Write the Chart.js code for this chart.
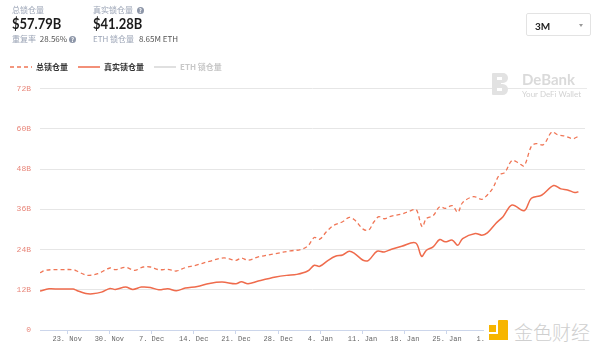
<!DOCTYPE html>
<html>
<head>
<meta charset="utf-8">
<script src="https://cdn.jsdelivr.net/npm/chart.js@4/dist/chart.umd.min.js"></script>
<style>
  html, body { margin: 0; padding: 0; background: #fff; }
  #wrap { position: relative; width: 600px; height: 356px; overflow: hidden; font-family: Lato, "Noto Sans CJK SC", sans-serif; }
  #c { position: absolute; left: 0; top: 0; }
  .abs { position: absolute; white-space: nowrap; line-height: 1; }
  .lbl { font-size: 8px; color: #9aa3b5; font-family: "Noto Sans CJK SC", Lato, sans-serif; }
  .big { font-size: 13px; font-weight: 700; color: #1b1b1b; transform: scaleY(1.18); transform-origin: 0 0; }
  .val { font-size: 8px; color: #555; }
  .q { display: inline-block; width: 7px; height: 7px; border-radius: 50%; background: #8d96a8; color: #fff; font-size: 6px; text-align: center; line-height: 7px; font-weight: 700; vertical-align: middle; }
  #sel { position: absolute; left: 526px; top: 13px; width: 65px; height: 23px; border: 1px solid #e3e3e3; border-radius: 2px; box-sizing: border-box; }
  #sel span { position: absolute; left: 8px; top: 7px; font-size: 10px; font-weight: 700; color: #222; line-height: 1; }
  #caret { position: absolute; left: 52px; top: 10px; width: 0; height: 0; border-left: 2.5px solid transparent; border-right: 2.5px solid transparent; border-top: 3px solid #999; }
  #debank { position: absolute; left: 492px; top: 72px; width: 96px; height: 26px; }
  #jinse { position: absolute; left: 484px; top: 317px; width: 116px; height: 36px; background: #fff; }
</style>
</head>
<body>
<div id="wrap">
  <canvas id="c" width="600" height="356"></canvas>

  <div class="abs lbl" style="left:12px;top:6px;">总锁仓量</div>
  <div class="abs big" style="left:12px;top:16px;">$57.79B</div>
  <div class="abs lbl" style="left:12px;top:35px;">重复率 <span class="val" style="margin-left:2px;">28.56%</span> <span class="q">?</span></div>

  <div class="abs lbl" style="left:93px;top:6px;">真实锁仓量 <span class="q" style="margin-left:2px;">?</span></div>
  <div class="abs big" style="left:93px;top:16px;">$41.28B</div>
  <div class="abs lbl" style="left:93px;top:35px;">ETH 锁仓量 <span class="val" style="margin-left:3px;">8.65M ETH</span></div>

  <div id="sel"><span>3M</span><div id="caret"></div></div>

  <div id="debank">
    <div class="abs" style="left:0;top:1px;width:16px;height:22px;">
      <div style="position:absolute;left:0;top:0;width:9px;height:22px;background:#e2e2e2;border-radius:1px;"></div>
      <div style="position:absolute;left:5px;top:0;width:11px;height:10px;background:#e2e2e2;border-radius:0 6px 6px 0;"></div>
      <div style="position:absolute;left:5px;top:11px;width:11px;height:11px;background:#e2e2e2;border-radius:0 6px 6px 0;"></div>
      <div style="position:absolute;left:5px;top:4px;width:5px;height:3px;background:#fff;"></div>
      <div style="position:absolute;left:5px;top:15px;width:5px;height:3px;background:#fff;"></div>
    </div>
    <div class="abs" style="left:30px;top:0px;font-size:15px;font-weight:700;color:#dadada;">DeBank</div>
    <div class="abs" style="left:29px;top:16px;width:66px;height:1px;background:#eaeaea;"></div>
    <div class="abs" style="left:30px;top:18px;font-size:8px;color:#d2d2d2;">Your DeFi Wallet</div>
  </div>

  <div id="jinse">
    <div class="abs" style="left:5px;top:8px;width:7px;height:7px;background:#f7b500;"></div>
    <div class="abs" style="left:14px;top:3px;width:10px;height:20px;background:#f7b500;border-radius:1px;"></div>
    <div class="abs" style="left:5px;top:17px;width:19px;height:6px;background:#f7b500;"></div>
    <div class="abs" style="left:30px;top:5px;font-size:19px;color:#cfcfcf;font-family:'Noto Sans CJK SC',sans-serif;font-weight:300;letter-spacing:0px;">金色财经</div>
  </div>
</div>

<script>
// ---- data (x = days relative to 23 Nov) ----
const seriesNames = ['总锁仓量', '真实锁仓量', 'ETH 锁仓量'];
const tickLabels = ['23. Nov', '30. Nov', '7. Dec', '14. Dec', '21. Dec', '28. Dec', '4. Jan', '11. Jan', '18. Jan', '25. Jan', '1. Feb', '8. Feb', '15. Feb'];
const yTickValues = [0, 12, 24, 36, 48, 60, 72];

const totalDays = [-4.5, -3.6, -2.4, -1.3, 1.0, 1.6, 2.8, 3.6, 5.1, 7.1, 8.0, 9.7, 11.2, 12.6, 13.8, 15.2, 16.7, 18.1, 19.6, 21.3, 23.6, 26.0, 28.0, 28.9, 30.0, 31.7, 34.6, 37.0, 38.7, 39.9, 41.0, 41.9, 43.0, 44.2, 45.7, 46.8, 47.7, 49.1, 50.0, 50.9, 51.7, 52.6, 53.8, 55.5, 56.7, 57.8, 58.1, 58.9, 59.6, 60.7, 61.8, 62.7, 63.9, 64.8, 65.6, 67.4, 68.8, 69.7, 70.6, 71.7, 72.6, 73.8, 74.9, 75.8, 77.0, 77.8, 79.0, 80.4, 81.3, 82.7, 83.9, 84.8];
const totalValues = [17.1, 17.8, 18.0, 18.0, 18.0, 17.6, 16.6, 16.3, 16.8, 18.5, 18.0, 18.7, 17.8, 18.8, 18.8, 18.0, 18.1, 17.6, 18.6, 19.3, 20.5, 21.5, 20.8, 21.5, 20.8, 21.8, 22.8, 23.6, 24.0, 25.0, 27.6, 27.1, 29.3, 31.2, 32.3, 33.6, 32.8, 30.1, 29.8, 32.3, 33.8, 33.2, 34.0, 34.6, 35.4, 36.0, 35.3, 30.8, 33.3, 34.1, 36.8, 36.3, 37.1, 35.1, 38.0, 39.8, 39.0, 40.3, 42.3, 46.3, 47.0, 50.6, 49.8, 49.0, 54.8, 55.6, 55.3, 59.1, 58.3, 57.8, 57.1, 57.79];

const realDays = [-4.5, -3.0, -1.3, 1.0, 1.6, 3.1, 4.2, 5.7, 7.1, 8.0, 9.7, 10.9, 12.3, 13.8, 15.2, 16.7, 18.1, 19.6, 21.6, 23.6, 25.7, 28.0, 28.9, 30.0, 31.7, 34.6, 36.4, 38.1, 39.9, 41.0, 41.9, 43.3, 44.5, 45.7, 46.8, 47.7, 49.1, 50.0, 51.4, 52.6, 53.8, 55.5, 57.8, 58.8, 59.6, 60.7, 61.8, 62.7, 63.9, 64.8, 65.6, 67.7, 68.8, 69.7, 71.1, 72.3, 73.8, 75.8, 77.0, 78.7, 80.7, 81.9, 83.0, 84.2, 84.8];
const realValues = [11.6, 12.3, 12.2, 12.2, 11.8, 10.9, 10.8, 11.3, 12.4, 12.1, 12.8, 12.1, 12.8, 12.7, 12.0, 12.3, 11.7, 12.5, 13.0, 13.9, 14.3, 13.8, 14.4, 13.8, 14.6, 15.8, 16.3, 16.6, 17.6, 19.3, 19.0, 20.8, 22.0, 22.4, 23.5, 22.8, 20.8, 20.8, 23.5, 23.3, 24.1, 25.0, 26.0, 22.0, 23.8, 24.8, 27.0, 26.3, 26.8, 25.3, 27.3, 28.8, 28.3, 29.0, 31.8, 33.8, 37.3, 35.6, 39.3, 40.2, 43.1, 42.1, 41.8, 41.0, 41.28];

const ethValues = [];

const toPts = (xs, ys) => xs.map((x, i) => ({ x: x, y: ys[i] }));

new Chart(document.getElementById('c'), {
  type: 'line',
  data: {
    datasets: [
      { label: seriesNames[0], data: toPts(totalDays, totalValues), borderColor: '#f07656', borderWidth: 1.3, borderDash: [4, 3], pointRadius: 0, tension: 0.35, fill: false },
      { label: seriesNames[1], data: toPts(realDays, realValues), borderColor: '#ef6b4c', borderWidth: 1.5, pointRadius: 0, tension: 0.35, fill: false },
      { label: seriesNames[2], data: ethValues, borderColor: '#cccccc', borderWidth: 1.2, pointRadius: 0, fill: false }
    ]
  },
  options: {
    responsive: false,
    animation: false,
    events: [],
    layout: { padding: { top: 53, left: 0, right: 15, bottom: 0 } },
    plugins: {
      tooltip: { enabled: false },
      legend: {
        display: true,
        position: 'top',
        align: 'start',
        labels: {
          usePointStyle: true,
          pointStyle: 'line',
          pointStyleWidth: 22,
          padding: 10,
          font: { size: 8, weight: 'bold', family: "'Noto Sans CJK SC', Lato, sans-serif" },
          color: '#333',
          generateLabels(chart) {
            const items = Chart.defaults.plugins.legend.labels.generateLabels(chart);
            items.forEach((it, i) => {
              const ds = chart.data.datasets[i];
              it.strokeStyle = ds.borderColor;
              it.lineWidth = ds.borderWidth;
              it.lineDash = ds.borderDash || [];
              if (i === 2) { it.fontColor = '#c8c8c8'; }
            });
            return items;
          }
        }
      },
      title: {
        display: true,
        text: '',
        weight: 500,
        font: { size: 1, lineHeight: 1 },
        padding: { top: 0, bottom: 6.7 }
      }
    },
    scales: {
      x: {
        type: 'linear',
        min: -4.5,
        max: 85.9,
        afterFit(scale) { scale.height = 26; },
        afterBuildTicks(scale) {
          scale.ticks = scale.ticks.filter(t => t.value >= 0 && Math.abs(t.value % 7) < 1e-9);
        },
        ticks: {
          stepSize: 7,
          autoSkip: false,
          maxRotation: 0,
          padding: 1,
          color: '#666',
          font: { size: 7, family: "'Liberation Mono', 'DejaVu Sans Mono', monospace" },
          callback(v) { const i = Math.round(v / 7); return tickLabels[i] !== undefined ? tickLabels[i] : ''; }
        },
        grid: { drawOnChartArea: false, drawTicks: true, tickLength: 4, color: '#ccd6eb', lineWidth: 1 },
        border: { display: true, color: '#ccd6eb', width: 1 }
      },
      y: {
        min: 0,
        max: 72,
        afterFit(scale) { scale.width = 40; },
        afterBuildTicks(scale) { scale.ticks = yTickValues.map(v => ({ value: v })); },
        ticks: {
          stepSize: 12,
          padding: 9,
          color: '#e8877b',
          font: { size: 8, family: "'Liberation Mono', 'DejaVu Sans Mono', monospace" },
          callback(v) { return v === 0 ? '0' : v + 'B'; }
        },
        grid: { color: '#e6e6e6', drawTicks: false, lineWidth: 1 },
        border: { display: false }
      }
    }
  }
});
</script>
</body>
</html>
